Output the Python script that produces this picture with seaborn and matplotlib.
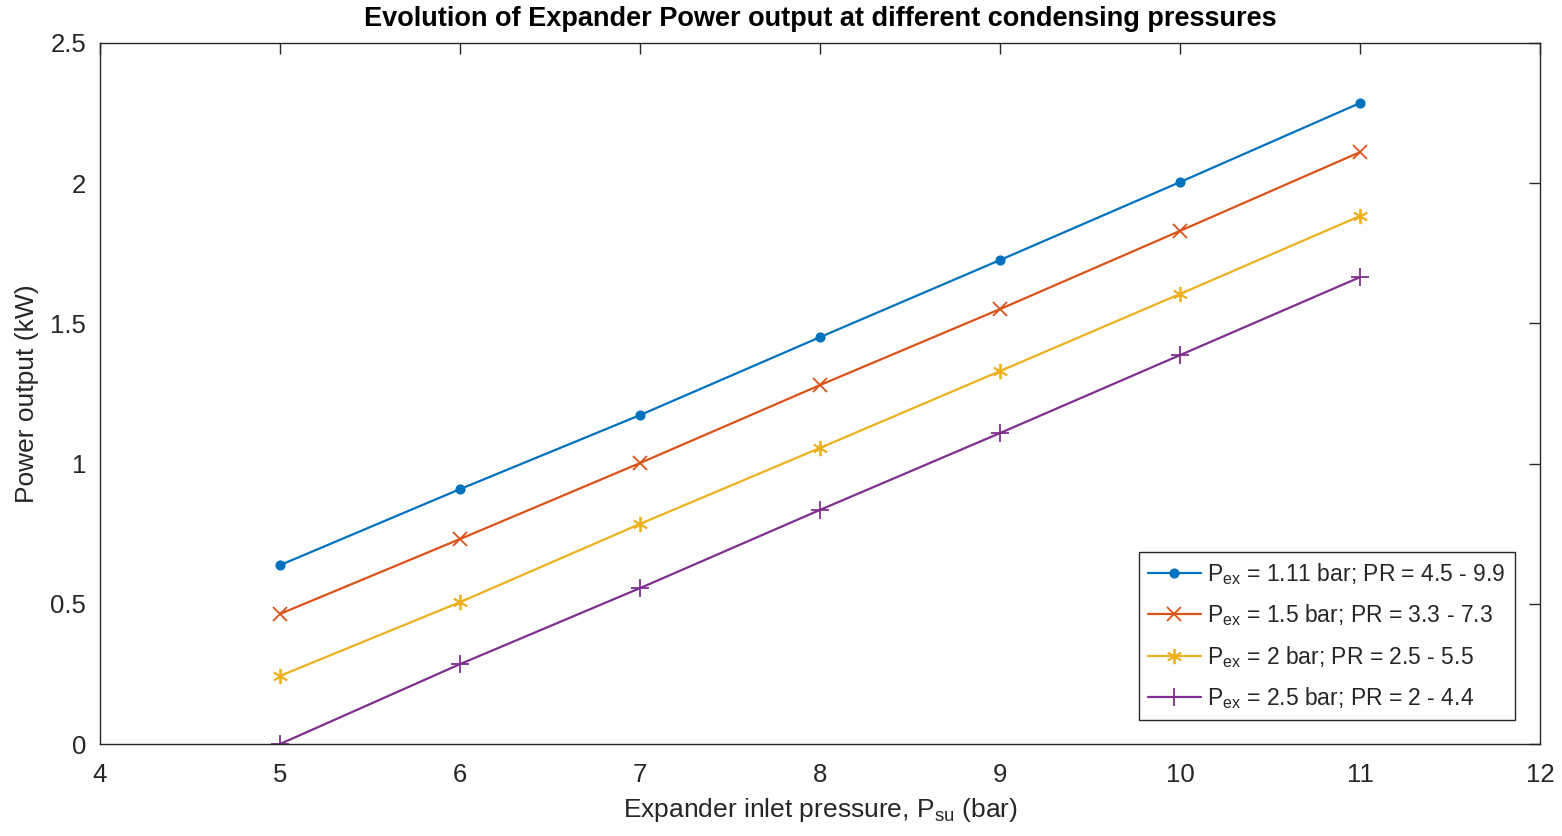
import numpy as np
import pandas as pd
import matplotlib
matplotlib.use("Agg")
import matplotlib.pyplot as plt
import seaborn as sns

x_vals = [5, 6, 7, 8, 9, 10, 11]
p111 = [0.638, 0.909, 1.173, 1.451, 1.726, 2.004, 2.286]
p15 = [0.464, 0.731, 1.002, 1.280, 1.551, 1.830, 2.111]
p2 = [0.243, 0.506, 0.785, 1.056, 1.330, 1.605, 1.883]
p25 = [0.0, 0.285, 0.556, 0.835, 1.109, 1.387, 1.665]
labels = [r"P$_{\mathrm{ex}}$ = 1.11 bar; PR = 4.5 - 9.9",
          r"P$_{\mathrm{ex}}$ = 1.5 bar; PR = 3.3 - 7.3",
          r"P$_{\mathrm{ex}}$ = 2 bar; PR = 2.5 - 5.5",
          r"P$_{\mathrm{ex}}$ = 2.5 bar; PR = 2 - 4.4"]
series = [p111, p15, p2, p25]

sns.set_style("white")
plt.rcParams['font.family'] = ['Liberation Sans', 'DejaVu Sans']
plt.rcParams['mathtext.fontset'] = 'custom'
plt.rcParams['mathtext.rm'] = 'Liberation Sans'

rows = []
for lab, s in zip(labels, series):
    for xv, yv in zip(x_vals, s):
        rows.append({"x": xv, "y": yv, "series": lab})
df = pd.DataFrame(rows)

colors = ["#0072BD", "#D95319", "#EDB120", "#7E2F8E"]
markers = ["o", "x", (6, 2, 0), "+"]
msizes = [6, 10, 11, 13]

fig = plt.figure(figsize=(15.62, 8.36), dpi=100)
ax = fig.add_axes([0.064, 0.110, 0.922, 0.8386])

for lab, c, m, ms in zip(labels, colors, markers, msizes):
    sub = df[df["series"] == lab]
    sns.lineplot(data=sub, x="x", y="y", ax=ax, color=c, marker=m,
                 markersize=ms, markeredgecolor=c, markerfacecolor=c,
                 markeredgewidth=1.3, linewidth=1.6, label=lab)

ax.set_xlim(4, 12)
ax.set_ylim(0, 2.5)
ax.set_xticks(range(4, 13))
ax.set_yticks([0, 0.5, 1, 1.5, 2, 2.5])
ax.set_yticklabels(["0", "0.5", "1", "1.5", "2", "2.5"])
ax.tick_params(direction="in", length=8, width=1, colors="#262626",
               labelsize=18.5, top=True, right=True, pad=10)
ax.tick_params(axis="x", pad=14)
for sp in ax.spines.values():
    sp.set_visible(True)
    sp.set_color("#262626")
    sp.set_linewidth(1.0)

ax.set_xlabel(r"Expander inlet pressure, P$_{\mathrm{su}}$ (bar)", fontsize=19, color="#262626", labelpad=6)
ax.set_ylabel("Power output (kW)", fontsize=19, color="#262626", labelpad=8)
ax.set_title("Evolution of Expander Power output at different condensing pressures",
             fontsize=19.5, fontweight="bold", color="black", pad=12)

leg = ax.legend(loc="lower right", bbox_to_anchor=(0.9826, 0.034), borderaxespad=0,
                fontsize=16.5, frameon=True, fancybox=False, edgecolor="#262626",
                framealpha=1, handlelength=2.3, handletextpad=0.3, borderpad=0.4,
                labelspacing=0.68)
leg.get_frame().set_linewidth(1.0)

fig.savefig("out.png", dpi=100)
